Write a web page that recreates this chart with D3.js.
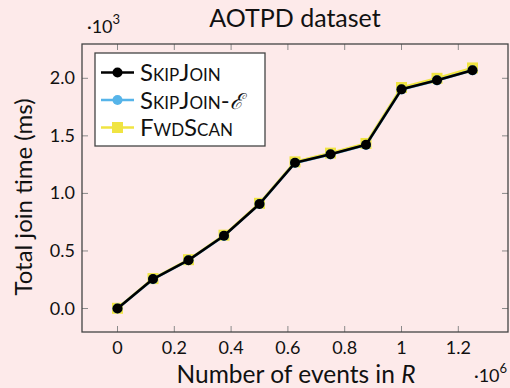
<!DOCTYPE html>
<html><head><meta charset="utf-8">
<script src="https://cdn.jsdelivr.net/npm/d3@7"></script>
<style>
html,body{margin:0;padding:0;background:#fdeaea;}
svg{display:block;}
text{font-family:Lato,"Open Sans",sans-serif;fill:#111;}
</style></head>
<body>
<svg id="c" width="510" height="388"></svg>
<script>
// data (x in millions of events, y in ms)
const events = [0, 0.125, 0.25, 0.375, 0.5, 0.625, 0.75, 0.875, 1.0, 1.125, 1.25];
const skipJoin  = [0, 256, 420, 632, 908, 1266, 1340, 1422, 1904, 1983, 2070];
const skipJoinE = [0, 255, 419, 631, 907, 1265, 1339, 1421, 1903, 1982, 2069];
const fwdScan   = [2, 260, 424, 637, 914, 1274, 1350, 1434, 1920, 2000, 2090];
const xTicks = [0, 0.2, 0.4, 0.6, 0.8, 1.0, 1.2];
const xTickLabels = ["0", "0.2", "0.4", "0.6", "0.8", "1", "1.2"];
const yTicks = [0, 500, 1000, 1500, 2000];
const yTickLabels = ["0.0", "0.5", "1.0", "1.5", "2.0"];
const seriesNames = ["SkipJoin", "SkipJoin-", "FwdScan"];

const svg = d3.select("#c");
const L = 82, R = 508, T = 44, B = 332;
const x = d3.scaleLinear().domain([-0.125, 1.375]).range([L, R]);
const y = d3.scaleLinear().domain([-204, 2298]).range([B, T]);

const tickColor = "#8a8a8a", axisColor = "#444";
const tl = 6;

// ticks (inner, mirrored)
const g = svg.append("g");
xTicks.forEach(v => {
  g.append("line").attr("x1", x(v)).attr("x2", x(v)).attr("y1", B).attr("y2", B - tl).attr("stroke", tickColor).attr("stroke-width", 1);
  g.append("line").attr("x1", x(v)).attr("x2", x(v)).attr("y1", T).attr("y2", T + tl).attr("stroke", tickColor).attr("stroke-width", 1);
});
yTicks.forEach(v => {
  g.append("line").attr("x1", L).attr("x2", L + tl).attr("y1", y(v)).attr("y2", y(v)).attr("stroke", tickColor).attr("stroke-width", 1);
  g.append("line").attr("x1", R).attr("x2", R - tl).attr("y1", y(v)).attr("y2", y(v)).attr("stroke", tickColor).attr("stroke-width", 1);
});
// tick labels
xTicks.forEach((v, i) => {
  svg.append("text").attr("x", x(v)).attr("y", 354).attr("text-anchor", "middle").attr("font-size", 18).text(xTickLabels[i]);
});
yTicks.forEach((v, i) => {
  svg.append("text").attr("x", 75).attr("y", y(v) + 6).attr("text-anchor", "end").attr("font-size", 18).text(yTickLabels[i]);
});

// frame
svg.append("rect").attr("x", L).attr("y", T).attr("width", R - L).attr("height", B - T)
  .attr("fill", "none").attr("stroke", axisColor).attr("stroke-width", 1.3);

// series
const line = d3.line().x((d, i) => x(events[i])).y(d => y(d));
const colors = {black: "#000000", blue: "#56b4e9", yellow: "#f0e442"};

function drawSeries(vals, color, marker) {
  svg.append("path").datum(vals).attr("d", line).attr("fill", "none").attr("stroke", color).attr("stroke-width", 2.6).attr("stroke-linejoin", "round");
  vals.forEach((v, i) => {
    if (marker === "circle") {
      svg.append("circle").attr("cx", x(events[i])).attr("cy", y(v)).attr("r", 5).attr("fill", color);
    } else {
      svg.append("rect").attr("x", x(events[i]) - 5.5).attr("y", y(v) - 5.5).attr("width", 11).attr("height", 11).attr("fill", color);
    }
  });
}
drawSeries(fwdScan, colors.yellow, "square");
drawSeries(skipJoinE, colors.blue, "circle");
drawSeries(skipJoin, colors.black, "circle");

// legend
const lg = svg.append("g");
lg.append("rect").attr("x", 95).attr("y", 53).attr("width", 170).attr("height", 93).attr("fill", "#fff").attr("stroke", axisColor).attr("stroke-width", 1.3);
const rows = [
  {c: colors.black, m: "circle"},
  {c: colors.blue, m: "circle"},
  {c: colors.yellow, m: "square"}
];
rows.forEach((r, i) => {
  const cy = 72.5 + i * 27.5;
  lg.append("line").attr("x1", 101).attr("x2", 134).attr("y1", cy).attr("y2", cy).attr("stroke", r.c).attr("stroke-width", 2.6);
  if (r.m === "circle") lg.append("circle").attr("cx", 117.5).attr("cy", cy).attr("r", 5).attr("fill", r.c);
  else lg.append("rect").attr("x", 112).attr("y", cy - 5.5).attr("width", 11).attr("height", 11).attr("fill", r.c);
  const t = lg.append("text").attr("x", 140).attr("y", cy + 8.5).attr("font-size", 24).style("font-variant", "small-caps").text(seriesNames[i]);
  if (i === 1) t.append("tspan").style("font-variant", "normal").attr("font-family", "DejaVu Serif").attr("font-style", "italic").attr("font-size", 22).text("ℰ");
});

// title
svg.append("text").attr("x", 295).attr("y", 27).attr("text-anchor", "middle").attr("font-size", 25).text("AOTPD dataset");

// exponent labels
const e3 = svg.append("text").attr("x", 87).attr("y", 33).attr("font-size", 18);
e3.append("tspan").text("·10");
e3.append("tspan").attr("dy", -9).attr("font-size", 13).text("3");
const e6 = svg.append("text").attr("x", 474).attr("y", 382).attr("font-size", 18);
e6.append("tspan").text("·10");
e6.append("tspan").attr("dy", -9).attr("font-size", 13).text("6");

// axis labels
const xl = svg.append("text").attr("x", 296).attr("y", 383).attr("text-anchor", "middle").attr("font-size", 24.5);
xl.append("tspan").text("Number of events in ");
xl.append("tspan").attr("font-style", "italic").text("R");
svg.append("text").attr("transform", "translate(32,197) rotate(-90)").attr("text-anchor", "middle").attr("font-size", 24).text("Total join time (ms)");
</script>
</body></html>
